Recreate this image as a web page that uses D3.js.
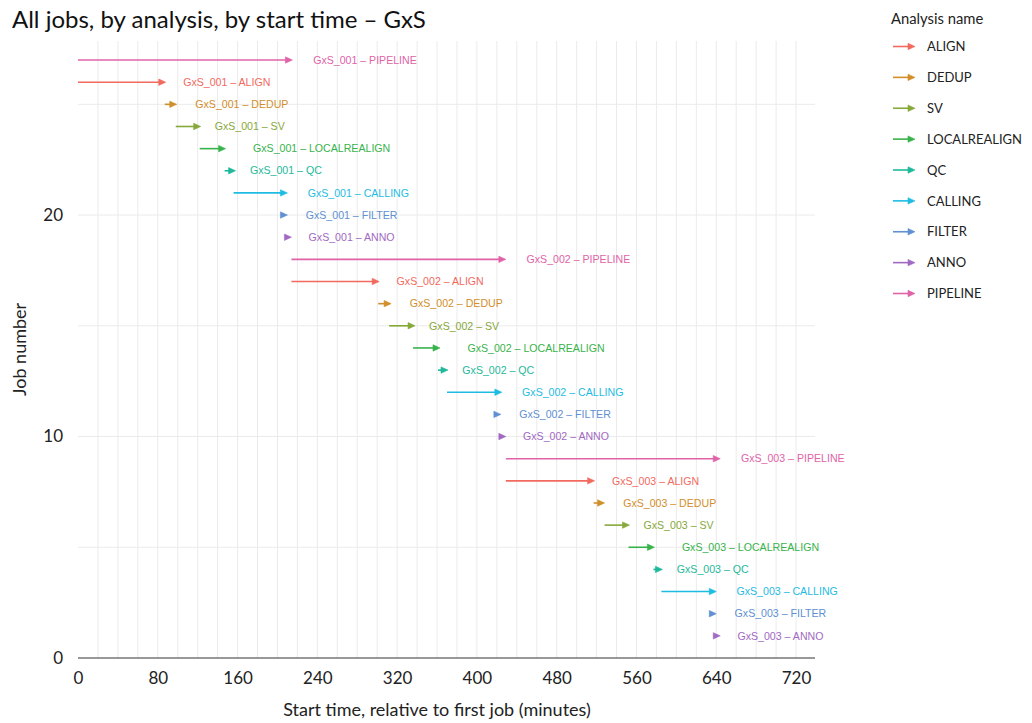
<!DOCTYPE html>
<html>
<head>
<meta charset="utf-8">
<script src="https://cdn.jsdelivr.net/npm/d3@7"></script>
<style>
  html, body { margin: 0; padding: 0; background: #fff; }
  svg { display: block; }
</style>
</head>
<body>
<svg id="chart" width="1032" height="723"></svg>
<script>
// ---------------- data ----------------
const analyses = ["ALIGN", "DEDUP", "SV", "LOCALREALIGN", "QC", "CALLING", "FILTER", "ANNO", "PIPELINE"];
const analysisColors = ["#F2695E", "#D28E2A", "#87A83B", "#38B34B", "#1DB99A", "#1EBCE3", "#6090D2", "#A169C2", "#E063A8"];

const jobNumber = [27, 26, 25, 24, 23, 22, 21, 20, 19,
                   18, 17, 16, 15, 14, 13, 12, 11, 10,
                   9, 8, 7, 6, 5, 4, 3, 2, 1];
const jobSample = ["GxS_001", "GxS_001", "GxS_001", "GxS_001", "GxS_001", "GxS_001", "GxS_001", "GxS_001", "GxS_001",
                   "GxS_002", "GxS_002", "GxS_002", "GxS_002", "GxS_002", "GxS_002", "GxS_002", "GxS_002", "GxS_002",
                   "GxS_003", "GxS_003", "GxS_003", "GxS_003", "GxS_003", "GxS_003", "GxS_003", "GxS_003", "GxS_003"];
const jobAnalysis = ["PIPELINE", "ALIGN", "DEDUP", "SV", "LOCALREALIGN", "QC", "CALLING", "FILTER", "ANNO",
                     "PIPELINE", "ALIGN", "DEDUP", "SV", "LOCALREALIGN", "QC", "CALLING", "FILTER", "ANNO",
                     "PIPELINE", "ALIGN", "DEDUP", "SV", "LOCALREALIGN", "QC", "CALLING", "FILTER", "ANNO"];
const jobStart = [0, 0, 87, 98, 122, 147, 156, 206, 209,
                  214, 214, 301, 312, 336, 361, 370, 419, 423,
                  429, 429, 517, 528, 552, 577, 585, 636, 639];
const jobEnd =   [215, 88, 99, 123, 148, 158, 210, 210, 214,
                  429, 302, 314, 338, 363, 371, 425, 424, 429,
                  644, 518, 528, 553, 578, 586, 640, 640, 644];

const xTicks = [0, 80, 160, 240, 320, 400, 480, 560, 640, 720];
const yTicks = [0, 10, 20];

const titleText = "All jobs, by analysis, by start time \u2013 GxS";
const xTitle = "Start time, relative to first job (minutes)";
const yTitle = "Job number";
const legendTitle = "Analysis name";

// ---------------- layout ----------------
const svg = d3.select("#chart");
const panel = { left: 78, right: 815, top: 41, bottom: 658 };

const x = d3.scaleLinear().domain([0, 739]).range([panel.left, panel.right]);
const y = d3.scaleLinear().domain([0, 27.86]).range([panel.bottom, panel.top]);
const color = d3.scaleOrdinal().domain(analyses).range(analysisColors);

const rows = jobNumber.map((n, i) => ({
  n, sample: jobSample[i], analysis: jobAnalysis[i], start: jobStart[i], end: jobEnd[i]
}));

// grid
const grid = svg.append("g");
grid.selectAll("line.v").data(d3.range(20, 740, 20)).join("line")
  .attr("x1", d => x(d)).attr("x2", d => x(d))
  .attr("y1", panel.top).attr("y2", panel.bottom)
  .attr("stroke", "#EBEBEB").attr("stroke-width", 1);
grid.selectAll("line.h").data([5, 10, 15, 20, 25]).join("line")
  .attr("x1", panel.left).attr("x2", panel.right)
  .attr("y1", d => y(d)).attr("y2", d => y(d))
  .attr("stroke", "#EBEBEB").attr("stroke-width", 1);

// x axis line
svg.append("line")
  .attr("x1", panel.left).attr("x2", panel.right)
  .attr("y1", y(0)).attr("y2", y(0))
  .attr("stroke", "#333").attr("stroke-width", 1.1);

// axes
const axisFont = "Lato, 'Open Sans', sans-serif";
const xAxis = d3.axisBottom(x).tickValues(xTicks).tickSize(0).tickPadding(14);
const gx = svg.append("g").attr("transform", `translate(0,${panel.bottom})`).call(xAxis);
gx.select(".domain").remove();
gx.selectAll("text").attr("font-family", axisFont).attr("font-size", 17).attr("fill", "#222");

const yAxis = d3.axisLeft(y).tickValues(yTicks).tickSize(0).tickPadding(15);
const gy = svg.append("g").attr("transform", `translate(${panel.left},0)`).call(yAxis);
gy.select(".domain").remove();
gy.selectAll("text").attr("font-family", axisFont).attr("font-size", 17).attr("fill", "#222");

// titles
svg.append("text").attr("x", 12).attr("y", 28)
  .attr("font-family", axisFont).attr("font-size", 24).attr("fill", "#111")
  .text(titleText);
svg.append("text").attr("x", 437).attr("y", 716)
  .attr("text-anchor", "middle")
  .attr("font-family", axisFont).attr("font-size", 18).attr("fill", "#222")
  .text(xTitle);
svg.append("text")
  .attr("transform", `translate(26,${(panel.top + panel.bottom) / 2}) rotate(-90)`)
  .attr("text-anchor", "middle")
  .attr("font-family", axisFont).attr("font-size", 18).attr("fill", "#222")
  .text(yTitle);

// arrows
const headLen = 7, headHalf = 3.2;
function arrow(g, x0, x1, yy, col) {
  const tip = x1;
  const lineEnd = tip - headLen + 1;
  if (lineEnd > x0) {
    g.append("line").attr("x1", x0).attr("x2", lineEnd).attr("y1", yy).attr("y2", yy)
      .attr("stroke", col).attr("stroke-width", 1.6);
  }
  g.append("path")
    .attr("d", `M${tip},${yy} L${tip - headLen},${yy - headHalf} L${tip - headLen},${yy + headHalf} Z`)
    .attr("fill", col).attr("stroke", col).attr("stroke-width", 0.6).attr("stroke-linejoin", "round");
}

const arrowsG = svg.append("g");
rows.forEach(d => {
  arrow(arrowsG, x(d.start), x(d.end), y(d.n), color(d.analysis));
});

// labels (hjust = -0.2)
const labelsG = svg.append("g");
rows.forEach(d => {
  const t = labelsG.append("text")
    .attr("y", y(d.n)).attr("dy", "0.35em")
    .attr("font-family", "'Liberation Sans', Arial, sans-serif")
    .attr("font-size", 10.6)
    .attr("fill", color(d.analysis))
    .text(`${d.sample} \u2013 ${d.analysis}`);
  const w = t.node().getComputedTextLength();
  t.attr("x", x(d.end) + 0.2 * w);
});

// legend
const lg = svg.append("g");
lg.append("text").attr("x", 891).attr("y", 24)
  .attr("font-family", axisFont).attr("font-size", 14.8).attr("fill", "#222")
  .text(legendTitle);
const legendY = d3.scalePoint().domain(analyses).range([46.5, 293.5]);
analyses.forEach(a => {
  const yy = legendY(a);
  arrow(lg, 893, 915, yy, color(a));
  lg.append("text").attr("x", 927).attr("y", yy).attr("dy", "0.36em")
    .attr("font-family", axisFont).attr("font-size", 13).attr("fill", "#222")
    .text(a);
});
</script>
</body>
</html>
